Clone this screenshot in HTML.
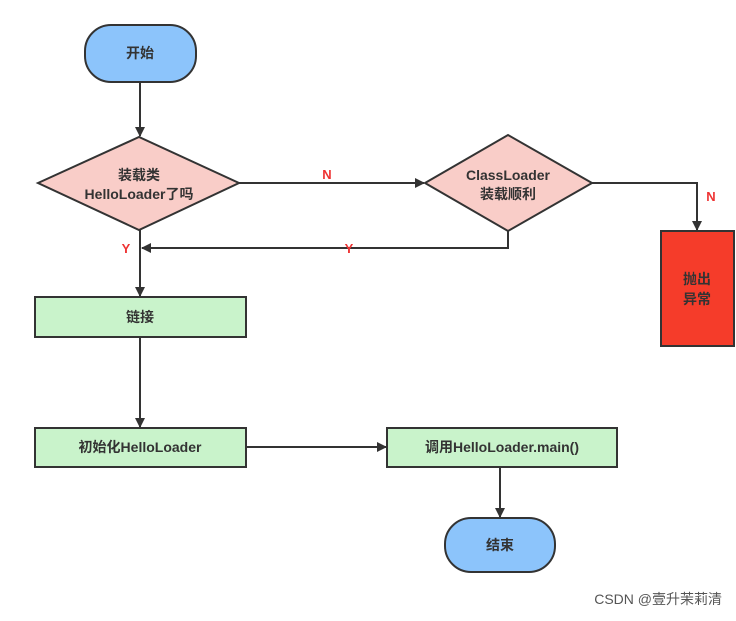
<!DOCTYPE html>
<html><head><meta charset="utf-8"><style>
body{margin:0;background:#fff;width:736px;height:616px;overflow:hidden}
text{font-family:"Liberation Sans","Noto Sans CJK SC",sans-serif;font-weight:bold;fill:#333;font-size:14px}
.r{fill:#e33;font-size:13px}
</style></head><body>
<svg width="736" height="616" viewBox="0 0 736 616">
<defs><marker id="a" markerWidth="10" markerHeight="10" refX="9" refY="5" orient="auto" markerUnits="userSpaceOnUse"><path d="M0,0 L10,5 L0,10 z" fill="#333"/></marker></defs>
<g stroke="#333" stroke-width="2" fill="none">
<line x1="140" y1="82" x2="140" y2="136" marker-end="url(#a)"/>
<line x1="239" y1="183" x2="424" y2="183" marker-end="url(#a)"/>
<polyline points="592,183 697,183 697,230" marker-end="url(#a)"/>
<polyline points="508,230 508,248 142,248" marker-end="url(#a)"/>
<line x1="140" y1="230" x2="140" y2="296" marker-end="url(#a)"/>
<line x1="140" y1="337" x2="140" y2="427" marker-end="url(#a)"/>
<line x1="246" y1="447" x2="386" y2="447" marker-end="url(#a)"/>
<line x1="500" y1="467" x2="500" y2="517" marker-end="url(#a)"/>
</g>
<g stroke="#333" stroke-width="2">
<rect x="85" y="25" width="111" height="57" rx="26" fill="#8cc4fb"/>
<polygon points="38,183 139,137 239,183 139,230" fill="#f9cdc8"/>
<polygon points="425,183 508,135 592,183 508,231" fill="#f9cdc8"/>
<rect x="661" y="231" width="73" height="115" fill="#f53c2a"/>
<rect x="35" y="297" width="211" height="40" fill="#c9f3cb"/>
<rect x="35" y="428" width="211" height="39" fill="#c9f3cb"/>
<rect x="387" y="428" width="230" height="39" fill="#c9f3cb"/>
<rect x="445" y="518" width="110" height="54" rx="26" fill="#8cc4fb"/>
</g>
<g text-anchor="middle">
<text x="140" y="58">开始</text>
<text x="139" y="180">装载类</text>
<text x="139" y="199">HelloLoader了吗</text>
<text x="508" y="180">ClassLoader</text>
<text x="508" y="199">装载顺利</text>
<text x="697" y="284">抛出</text>
<text x="697" y="304">异常</text>
<text x="140" y="322">链接</text>
<text x="140" y="452">初始化HelloLoader</text>
<text x="502" y="452">调用HelloLoader.main()</text>
<text x="500" y="550">结束</text>
<text class="r" x="327" y="179">N</text>
<text class="r" x="711" y="201">N</text>
<text class="r" x="126" y="253">Y</text>
<text class="r" x="349" y="253">Y</text>
</g>
<text x="722" y="604" text-anchor="end" style="font-weight:normal;fill:#555;font-size:14px">CSDN @壹升茉莉清</text>
</svg>
</body></html>
